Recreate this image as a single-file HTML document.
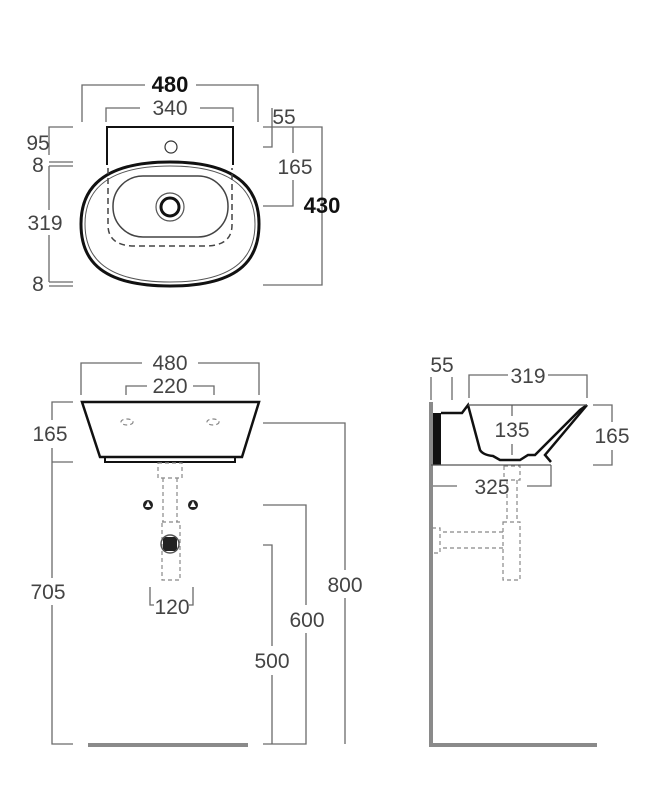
<!DOCTYPE html>
<html><head><meta charset="utf-8"><style>
html,body{margin:0;padding:0;background:#fff}
svg{display:block}
text{font-family:"Liberation Sans",sans-serif;fill:#444;font-size:21px;text-anchor:middle}
.b{font-weight:bold;fill:#111;font-size:22px}
</style></head><body>
<svg width="670" height="804" viewBox="0 0 670 804" xmlns="http://www.w3.org/2000/svg">
<g fill="none" stroke="#6a6a6a" stroke-width="1.3">
<path d="M82,122 V85 H145 M196,85 H258 V122"/>
<path d="M106,122 V108 H140 M200,108 H233 V122"/>
<path d="M73,127 H49 V155"/>
<path d="M49,162 H73 M49,166 H73 M49,166 V210 M49,235 V282 M49,282 H73 M49,286 H73"/>
<path d="M263,147 H272 V108"/>
<path d="M263,127 H322 V285 H263"/>
<path d="M293,127 V153 M293,180 V206 H263"/>
<path d="M81,395 V363 H142 M198,363 H259 V395"/>
<path d="M126,395 V386 H147 M193,386 H214 V395"/>
<path d="M73,402 H52 V420 M52,448 V578 M52,605 V744 H73 M52,462 H73"/>
<path d="M263,423 H345 V570 M345,598 V744"/>
<path d="M263,505 H306 V605 M306,633 V744 H263"/>
<path d="M263,545 H272 V646 M272,675 V744"/>
<path d="M150,587 V605 H154 M193,587 V605 H189"/>
<path d="M431,400 V377 M452,400 V377"/>
<path d="M469,398 V375 H508 M548,375 H587 V398"/>
<path d="M593,405 H612 V422 M612,450 V465 H593"/>
<path d="M431,465 V486 H457 M527,486 H551 V465"/>
<path d="M512,405 V416 M512,444 V455"/>
</g>
<g stroke="#8a8a8a" stroke-width="4" fill="none">
<path d="M88,745 H248"/>
<path d="M431,402 V745 H597"/>
</g>
<g fill="none" stroke="#111">
<path d="M107,165 V127 H233 V165" stroke-width="2"/>
<circle cx="171" cy="147" r="6" stroke-width="1.2" stroke="#333"/>
<path d="M170,162 C245,162 259,195 259,224 C259,255 245,286 170,286 C95,286 81,255 81,224 C81,195 95,162 170,162 Z" stroke-width="3" fill="#fff"/>
<path d="M170,166 C241,166 255,197 255,224 C255,252 241,282 170,282 C99,282 85,252 85,224 C85,197 99,166 170,166 Z" stroke-width="1" stroke="#555"/>
<rect x="113" y="176" width="115" height="61" rx="30" stroke="#444" stroke-width="1.5"/>
<path d="M108,168 V225 Q108,246 135,246 H205 Q232,246 232,225 V168" stroke="#444" stroke-width="1.5" stroke-dasharray="6,4"/>
<circle cx="170" cy="207" r="14" stroke="#555" stroke-width="1.2"/>
<circle cx="170" cy="207" r="9" stroke-width="3"/>
</g>
<g fill="none" stroke="#111">
<path d="M82,402 H259 L242,457 H100 Z" stroke-width="2.5"/>
<path d="M105,457 V462 H235 V457" stroke-width="2"/>
</g>
<g fill="none" stroke="#888" stroke-width="1.2" stroke-dasharray="4,3">
<ellipse cx="127" cy="422" rx="6" ry="3"/>
<ellipse cx="213" cy="422" rx="6" ry="3"/>
<path d="M158,463 H182 V478 H158 Z M163,478 V522 M177,478 V522 M162,522 H180 V580 H162 Z"/>
<path d="M504,466 H520 V480 H504 Z M507,480 V520 M517,480 V520 M503,522 H520 V580 H503 Z M503,532 H440 M503,548 H440 M432,528 H440 V553 H432"/>
</g>
<g fill="#222">
<circle cx="148" cy="505" r="5"/><circle cx="193" cy="505" r="5"/>
<rect x="163" y="537" width="14" height="14"/>
</g>
<circle cx="170" cy="544" r="9" fill="none" stroke="#555" stroke-width="1.5"/>
<g fill="#fff"><path d="M148,501 L151,507 H145 Z M193,501 L196,507 H190 Z"/></g>
<rect x="433" y="413" width="8" height="52" fill="#111"/>
<g fill="none" stroke="#111" stroke-width="2.5">
<path d="M441,413 H462 L468,405 L480,450 Q483,455 493,456 L500,460 H520 L528,455 H535 L580,410 L587,405"/>
<path d="M587,405 L545,455 L551,462"/>
</g>
<path d="M468,405 H587 M431,465 H551" stroke="#555" stroke-width="1.3" fill="none"/>
<text x="170" y="92" class="b">480</text>
<text x="170" y="115">340</text>
<text x="38" y="150">95</text>
<text x="38" y="172">8</text>
<text x="45" y="230">319</text>
<text x="38" y="291">8</text>
<text x="284" y="124">55</text>
<text x="295" y="174">165</text>
<text x="322" y="213" class="b">430</text>
<text x="170" y="370">480</text>
<text x="170" y="393">220</text>
<text x="50" y="441">165</text>
<text x="48" y="599">705</text>
<text x="172" y="614">120</text>
<text x="345" y="592">800</text>
<text x="307" y="627">600</text>
<text x="272" y="668">500</text>
<text x="442" y="372">55</text>
<text x="528" y="383">319</text>
<text x="512" y="437">135</text>
<text x="612" y="443">165</text>
<text x="492" y="494">325</text>
</svg>
</body></html>
